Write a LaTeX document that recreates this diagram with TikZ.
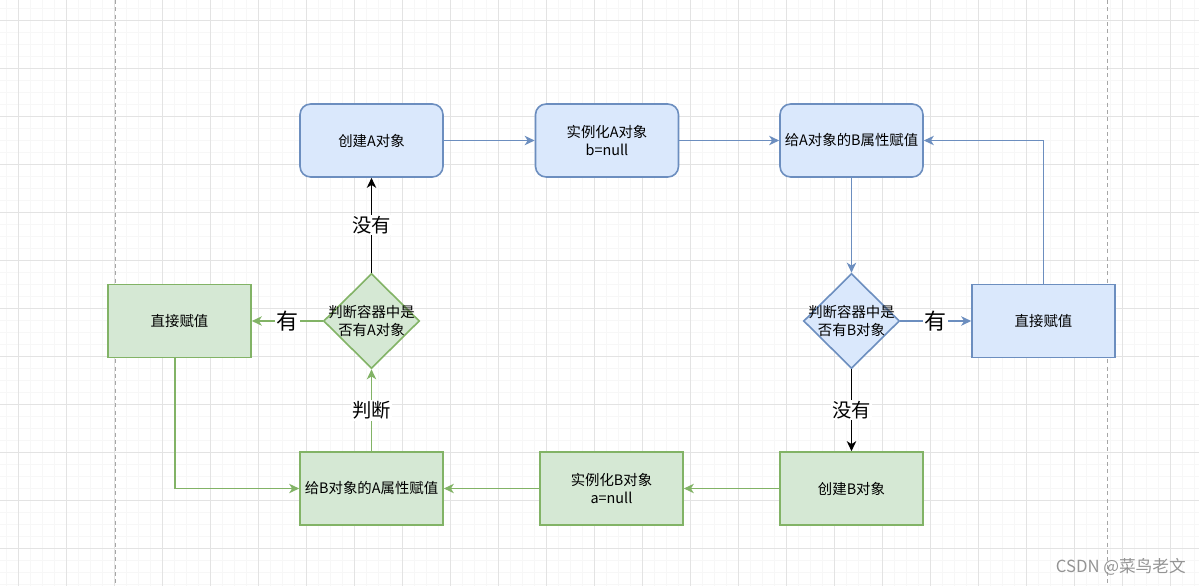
\documentclass[tikz,border=0pt]{standalone}
\usepackage{fontspec}
\setmainfont{Noto Sans CJK SC}
\usetikzlibrary{arrows.meta,shapes.geometric}
\definecolor{bfill}{HTML}{DAE8FC}
\definecolor{bdraw}{HTML}{6C8EBF}
\definecolor{gfill}{HTML}{D5E8D4}
\definecolor{gdraw}{HTML}{82B366}
\begin{document}
\begin{tikzpicture}[x=0.75pt,y=-0.75pt,
  minorgrid/.style={draw=black!3, line width=0.75pt},
  majorgrid/.style={draw=black!11, line width=0.75pt},
  guide/.style={draw=black!35, line width=0.75pt, dash pattern=on 3pt off 2.5pt},
  box/.style={draw, line width=1.2pt, minimum width=107.25pt, minimum height=54.75pt, inner sep=0pt, align=center, text=black, font=\fontsize{10.8}{14.2}\selectfont},
  bluebox/.style={box, fill=bfill, draw=bdraw},
  greenbox/.style={box, fill=gfill, draw=gdraw},
  rbox/.style={rounded corners=8pt},
  dia/.style={diamond, line width=1.2pt, minimum width=72pt, minimum height=71.25pt, inner sep=0pt},
  diatext/.style={align=center, text=black, inner sep=0pt, font=\fontsize{10.8}{14.2}\selectfont},
  arr/.style={line width=1.4pt, -{Stealth[length=7.5pt,width=7pt,inset=2.2pt]}},
  lab/.style={fill=white, inner sep=1pt, text=black, font=\fontsize{14.5}{16}\selectfont},
  biglab/.style={lab, font=\fontsize{16.5}{18}\selectfont}
]
\useasboundingbox (0,0) rectangle (1199,586);
\fill[white] (0,0) rectangle (1199,586);
% grid
\foreach \x in {6,18,...,1194} \draw[minorgrid] (\x,0) -- (\x,586);
\foreach \y in {8,20,...,584} \draw[minorgrid] (0,\y) -- (1199,\y);
\foreach \x in {18,66,...,1194} \draw[majorgrid] (\x,0) -- (\x,586);
\foreach \y in {20,68,...,584} \draw[majorgrid] (0,\y) -- (1199,\y);
\draw[guide] (115,0) -- (115,586);
\draw[guide] (1107,0) -- (1107,586);

% top row
\node[bluebox, rbox] (cA) at (371.5,140.5) {创建A对象};
\node[bluebox, rbox] (iA) at (607,140.5) {实例化A对象\\b=null};
\node[bluebox, rbox] (gAB) at (851.5,140.5) {给A对象的B属性赋值};

% middle row
\node[greenbox] (zA) at (179.5,321) {直接赋值};
\node[dia, fill=gfill, draw=gdraw] (dA) at (371.5,321) {};
\node[diatext] (dAt) at (dA.center) {判断容器中是\\否有A对象};
\node[dia, fill=bfill, draw=bdraw] (dB) at (851.5,321) {};
\node[diatext] (dBt) at (dB.center) {判断容器中是\\否有B对象};
\node[bluebox] (zB) at (1043.5,321) {直接赋值};

% bottom row
\node[greenbox] (gBA) at (371.5,488.5) {给B对象的A属性赋值};
\node[greenbox] (iB) at (611.5,488.5) {实例化B对象\\a=null};
\node[greenbox] (cB) at (851.5,488.5) {创建B对象};

% connectors
\draw[arr, bdraw] (cA) -- (iA);
\draw[arr, bdraw] (iA) -- (gAB);
\draw[arr, bdraw] (gAB) -- (dB);
\draw[arr, bdraw] (dB) -- node[biglab] {有} (zB);
\draw[arr, bdraw] (zB.north) |- (gAB.east);
\draw[arr, black] (dB) -- node[lab] {没有} (cB);
\draw[arr, gdraw] (cB) -- (iB);
\draw[arr, gdraw] (iB) -- (gBA);
\draw[arr, gdraw] (gBA) -- node[lab] {判断} (dA);
\draw[arr, gdraw] (dA) -- node[biglab] {有} (zA);
\draw[arr, gdraw] ([xshift=-3.4pt]zA.south) |- (gBA.west);
\draw[arr, black] (dA) -- node[lab] {没有} (cA);

% watermark
\node[anchor=east, text=black!42, inner sep=0pt, font=\fontsize{12.5}{14}\selectfont] (wm) at (1186,567) {CSDN @菜鸟老文};
\end{tikzpicture}
\end{document}
